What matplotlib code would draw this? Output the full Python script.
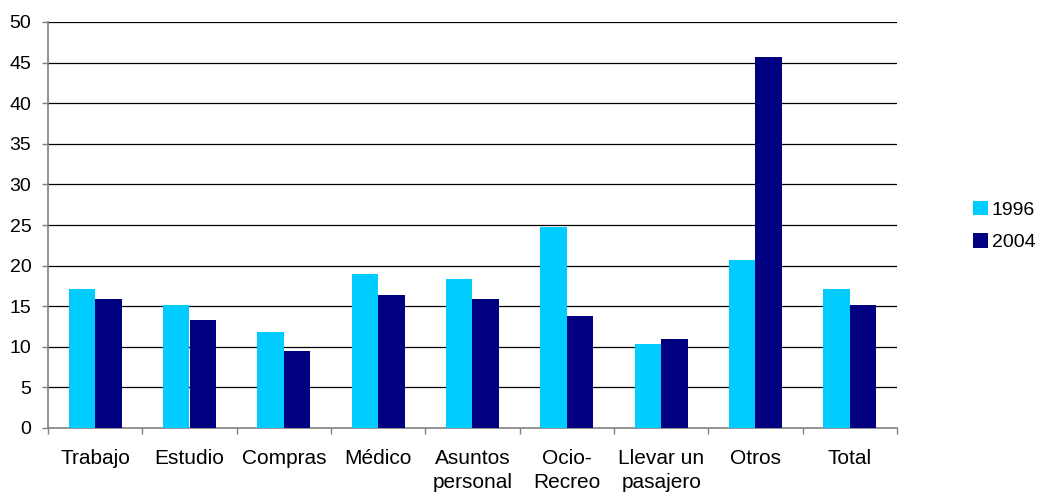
import matplotlib
matplotlib.use("Agg")
import matplotlib.pyplot as plt
import numpy as np
from matplotlib.patches import Patch

categories = ["Trabajo", "Estudio", "Compras", "Médico", "Asuntos\npersonal",
              "Ocio-\nRecreo", "Llevar un\npasajero", "Otros", "Total"]
v1996 = [17.1, 15.15, 11.8, 19.0, 18.35, 24.8, 10.4, 20.7, 17.1]
v2004 = [15.9, 13.3, 9.5, 16.4, 15.9, 13.8, 11.0, 45.7, 15.2]
series_names = ["1996", "2004"]
yticks = [0, 5, 10, 15, 20, 25, 30, 35, 40, 45, 50]

c1 = "#00CCFF"
c2 = "#000080"

plt.rcParams['font.family'] = ['Liberation Sans', 'DejaVu Sans']
fs_x = 15
fs_y = 14

fig = plt.figure(figsize=(10.40, 4.97), dpi=100)
ax = fig.add_axes([48/1040, 69/497, 849/1040, 406/497])

x = np.arange(len(categories))
w = 0.28
ax.bar(x - w/2, v1996, width=w, color=c1, zorder=3)
ax.bar(x + w/2, v2004, width=w, color=c2, zorder=3)

ax.set_xlim(-0.5, len(categories) - 0.5)
ax.set_ylim(0, 50)
ax.set_yticks(yticks)
ax.set_yticklabels([str(t) for t in yticks], fontsize=fs_y)
for t in yticks[1:]:
    ax.axhline(t, color="#000000", lw=0.9, zorder=1)

ax.set_xticks(x)
ax.set_xticklabels(categories, fontsize=fs_x, linespacing=1.35)
ax.set_xticks(np.arange(-0.5, len(categories)), minor=True)
ax.tick_params(axis='x', which='major', length=0, pad=15)
ax.tick_params(axis='x', which='minor', length=4, color="#808080", width=1)
ax.tick_params(axis='y', length=4, color="#808080", width=1, pad=8)

for s in ["top", "right"]:
    ax.spines[s].set_visible(False)
for s in ["left", "bottom"]:
    ax.spines[s].set_color("#808080")
    ax.spines[s].set_linewidth(1.2)

handles = [Patch(facecolor=c1, edgecolor='none'), Patch(facecolor=c2, edgecolor='none')]
fig.legend(handles, series_names, loc='center left', bbox_to_anchor=(973/1040, 1 - 226/497),
           frameon=False, fontsize=fs_y, handlelength=0.77, handleheight=0.77,
           handletextpad=0.2, labelspacing=0.75, borderpad=0, borderaxespad=0)

fig.savefig("out.png", dpi=100)
